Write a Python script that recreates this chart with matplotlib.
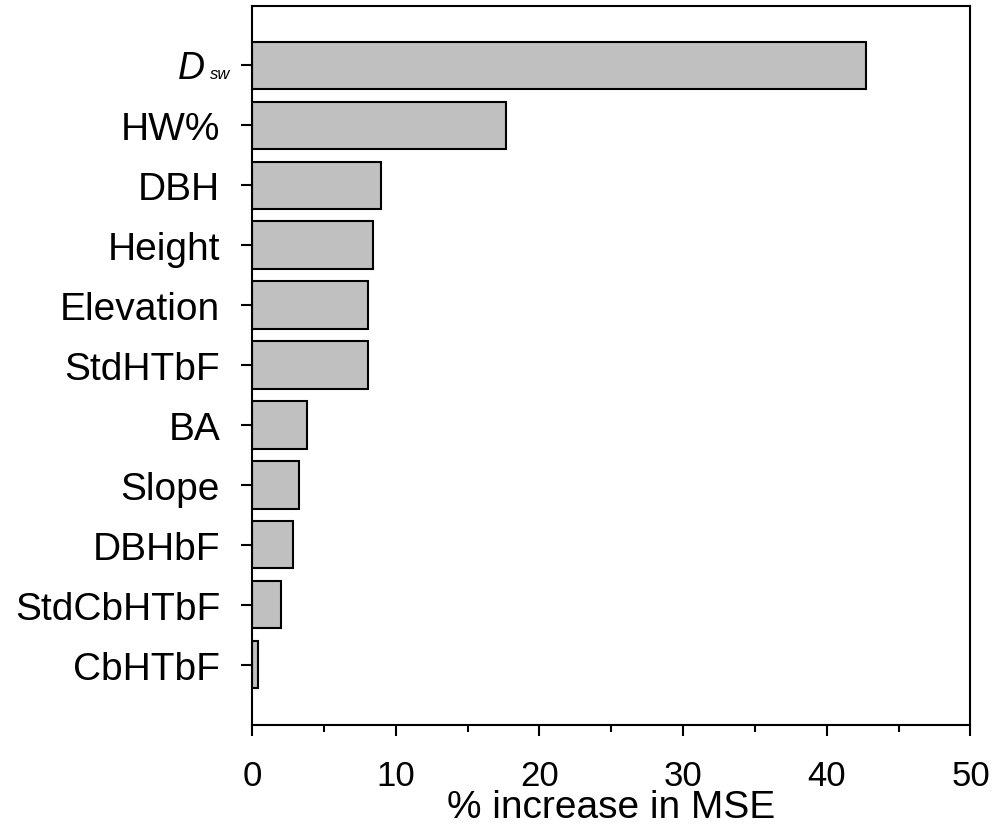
import matplotlib
matplotlib.use('Agg')
import matplotlib.pyplot as plt
from matplotlib.ticker import MultipleLocator

plt.rcParams['font.family'] = ['Liberation Sans', 'DejaVu Sans']

# variable importance from the random forest, top to bottom
variables = ['', 'HW%', 'DBH', 'Height', 'Elevation', 'StdHTbF',
             'BA', 'Slope', 'DBHbF', 'StdCbHTbF', 'CbHTbF']
inc_mse = [42.7, 17.7, 8.95, 8.45, 8.1, 8.05, 3.83, 3.27, 2.88, 2.04, 0.4]

fig = plt.figure(figsize=(9.95, 8.28), dpi=100)
ax = fig.add_axes([252 / 995, 1 - 725.5 / 828, 718.5 / 995, 719 / 828])

pos = list(range(len(variables)))
ax.barh(pos, inc_mse, height=0.79, color='#c0c0c0', edgecolor='black', linewidth=1.5)

ax.set_xlim(0, 50)
ax.set_ylim(len(variables), -1)
ax.set_yticks(pos)
ax.set_yticklabels(variables)
ax.xaxis.set_major_locator(MultipleLocator(10))
ax.xaxis.set_minor_locator(MultipleLocator(5))

# first label: italic D with a small subscript
ytr = ax.get_yaxis_transform()
ax.annotate('D', xy=(0, 0), xycoords=ytr, xytext=(-47, -13), textcoords='offset pixels',
            ha='right', va='baseline', fontsize=27, style='italic')
ax.annotate('sw', xy=(0, 0), xycoords=ytr, xytext=(-22, -13), textcoords='offset pixels',
            ha='right', va='baseline', fontsize=12, style='italic')

for s in ax.spines.values():
    s.set_linewidth(1.5)

ax.tick_params(axis='both', which='major', direction='out', length=8, width=1.5,
               labelsize=28)
ax.tick_params(axis='y', which='major', pad=15)
ax.tick_params(axis='x', which='major', pad=17, labelsize=25)
ax.tick_params(axis='x', which='minor', direction='out', length=5, width=1.5)
ax.set_xlabel('% increase in MSE', fontsize=28, labelpad=-2)

fig.savefig('out.png', dpi=100)
